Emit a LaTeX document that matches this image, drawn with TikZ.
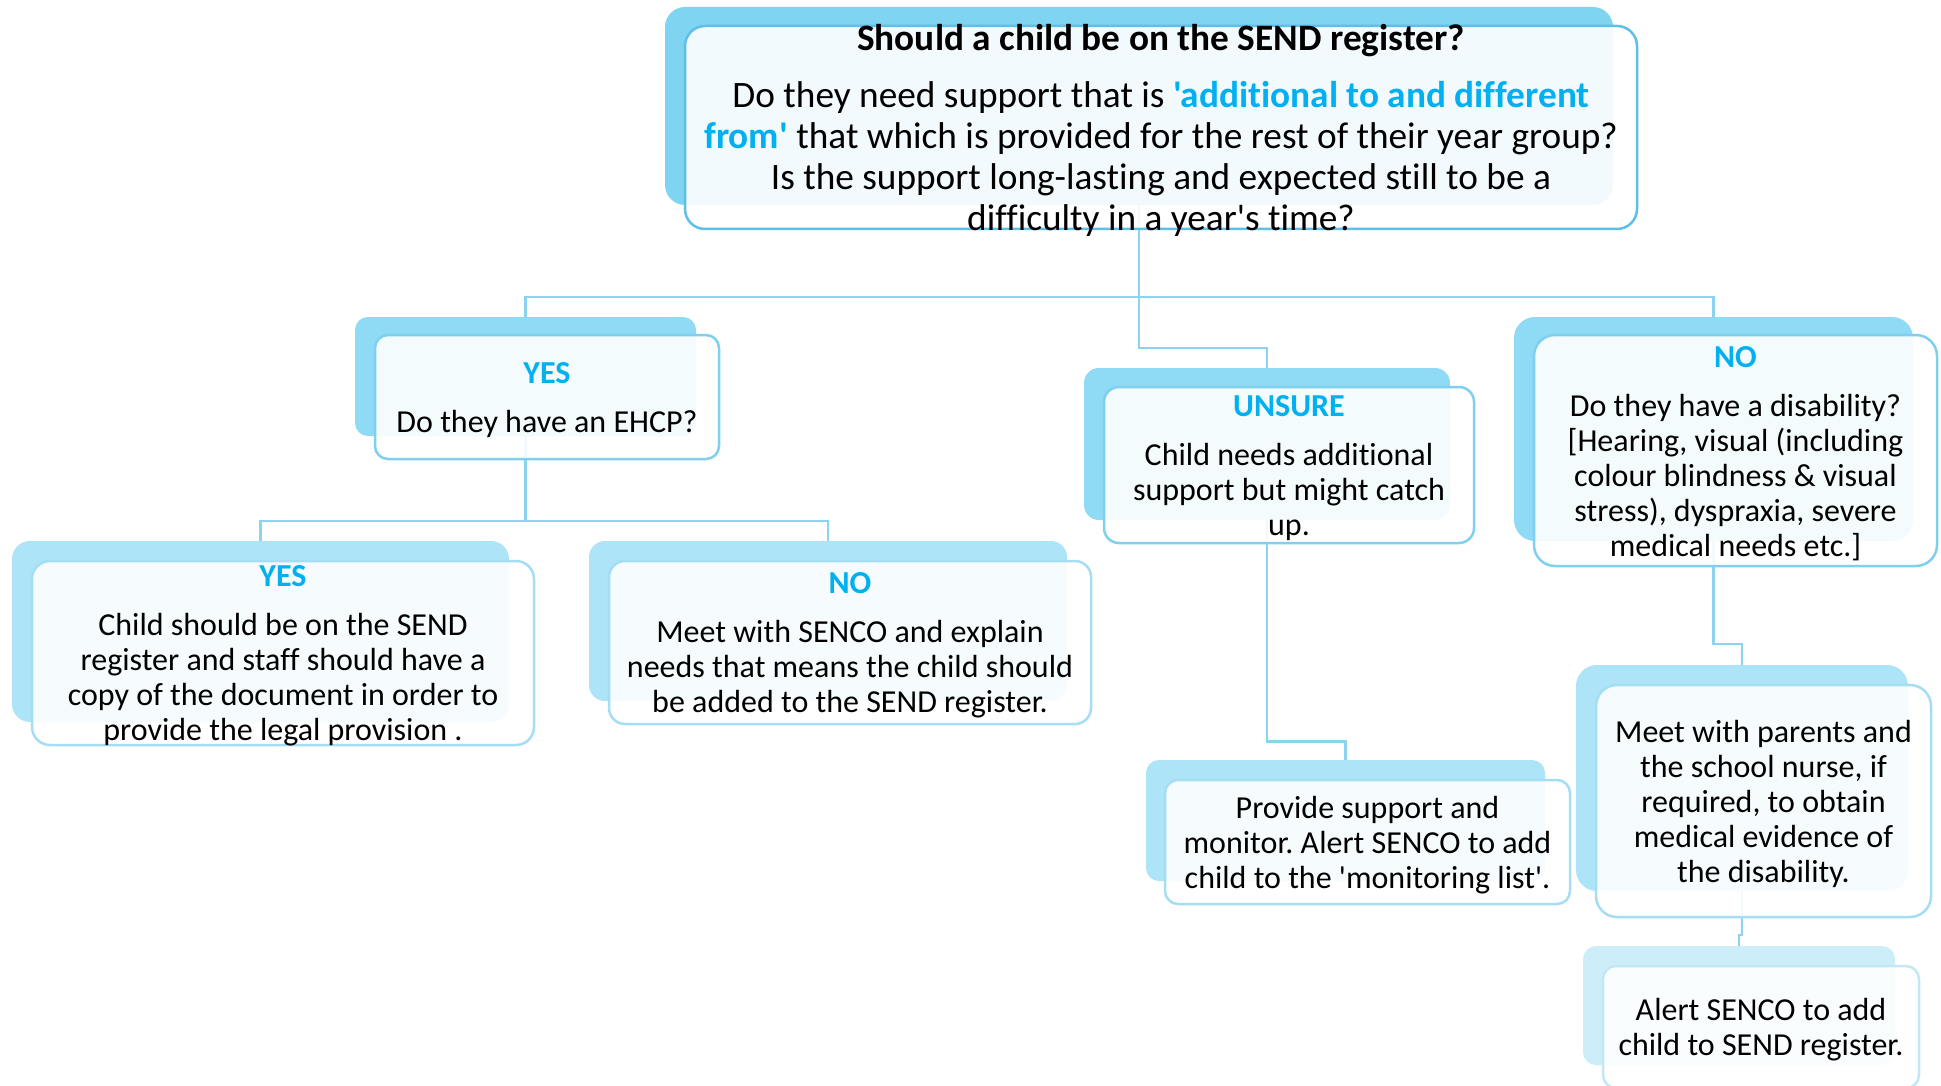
\documentclass[tikz,border=0pt]{standalone}
\usepackage{fontspec}
\newfontfamily\cf{Carlito}[Ligatures=CommonOff]
\frenchspacing
\definecolor{hl}{HTML}{00B0F0}
\definecolor{bk1}{HTML}{7FD4F1}
\definecolor{bk2}{HTML}{8FDAF4}
\definecolor{bk3}{HTML}{ADE4F7}
\definecolor{bk4}{HTML}{CDEDF9}
\definecolor{fr1}{HTML}{5FBFE6}
\definecolor{fr2}{HTML}{7FCFF0}
\definecolor{fr3}{HTML}{A5DDF4}
\definecolor{fr4}{HTML}{C3E7F6}
\definecolor{linkc}{HTML}{8CD3F0}
\begin{document}
\begin{tikzpicture}[x=1pt,y=-1pt,
  backbox/.style={inner sep=0pt, outer sep=0pt, draw=none},
  frontbox/.style={inner sep=0pt, outer sep=0pt, line width=2.5pt, fill=white, fill opacity=0.9},
  txt/.style={inner sep=0pt, align=center, yshift=-3pt, font=\cf\fontsize{32}{35}\selectfont\frenchspacing},
  bigtxt/.style={inner sep=0pt, align=center, yshift=-2.5pt, font=\cf\fontsize{37.3}{41}\selectfont\frenchspacing},
  link/.style={draw=linkc, line width=2.5pt}]
\fill[white] (0,0) rectangle (1941,1086);
\useasboundingbox (0,0) rectangle (1941,1086);

% back shapes (named first so connectors can use them)
\path
  node[backbox, minimum width=948pt, minimum height=198pt] (Tb) at (1139,106) {}
  node[backbox, minimum width=341pt, minimum height=119pt] (Yb) at (525.5,376.5) {}
  node[backbox, minimum width=497pt, minimum height=181pt] (Y2b) at (260.5,631.5) {}
  node[backbox, minimum width=478pt, minimum height=160pt] (N1b) at (828,621) {}
  node[backbox, minimum width=366pt, minimum height=152pt] (Ub) at (1267,444) {}
  node[backbox, minimum width=399pt, minimum height=121pt] (Pb) at (1345.5,820.5) {}
  node[backbox, minimum width=399pt, minimum height=224pt] (N2b) at (1713.5,429) {}
  node[backbox, minimum width=332pt, minimum height=226pt] (Mb) at (1742,778) {}
  node[backbox, minimum width=312pt, minimum height=119pt] (Ab) at (1739,1005.5) {};

\coordinate (b1) at (0,297);
\coordinate (b2) at (0,348);
\coordinate (b3) at (0,521);
\coordinate (b4) at (0,741.5);
\coordinate (b5) at (0,644);
\coordinate (b6) at (0,935);

% connectors
\draw[link] (Yb.north) |- (N2b.north |- b1) -- (N2b.north);
\draw[link] (Tb.south) |- (Ub.north |- b2) -- (Ub.north);
\draw[link] (Yb.south) -- (Yb.south |- b3);
\draw[link] (Y2b.north) |- (N1b.north |- b3) -- (N1b.north);
\draw[link] (Ub.south) |- (Pb.north |- b4) -- (Pb.north);
\draw[link] (N2b.south) |- (Mb.north |- b5) -- (Mb.north);
\draw[link] (Mb.south) |- (Ab.north |- b6) -- (Ab.north);

% filled back shapes
\fill[bk1, rounded corners=20pt] (Tb.south west) rectangle (Tb.north east);
\fill[bk2, rounded corners=13pt] (Yb.south west) rectangle (Yb.north east);
\fill[bk3, rounded corners=18pt] (Y2b.south west) rectangle (Y2b.north east);
\fill[bk3, rounded corners=16pt] (N1b.south west) rectangle (N1b.north east);
\fill[bk2, rounded corners=15pt] (Ub.south west) rectangle (Ub.north east);
\fill[bk3, rounded corners=13pt] (Pb.south west) rectangle (Pb.north east);
\fill[bk2, rounded corners=21pt] (N2b.south west) rectangle (N2b.north east);
\fill[bk3, rounded corners=21pt] (Mb.south west) rectangle (Mb.north east);
\fill[bk4, rounded corners=13pt] (Ab.south west) rectangle (Ab.north east);

% front boxes
\node[frontbox, draw=fr1, rounded corners=20pt, minimum width=952pt, minimum height=203pt] (T) at (1161,127.5) {};
\node[frontbox, draw=fr2, rounded corners=13pt, minimum width=344pt, minimum height=124pt] (Y) at (547,397) {};
\node[frontbox, draw=fr3, rounded corners=18pt, minimum width=502pt, minimum height=184pt] (Y2) at (283,653) {};
\node[frontbox, draw=fr3, rounded corners=16pt, minimum width=482pt, minimum height=163pt] (N1) at (850,642.5) {};
\node[frontbox, draw=fr2, rounded corners=15pt, minimum width=370pt, minimum height=156pt] (U) at (1289,465) {};
\node[frontbox, draw=fr3, rounded corners=13pt, minimum width=405pt, minimum height=124pt] (P) at (1367.5,842) {};
\node[frontbox, draw=fr2, rounded corners=21pt, minimum width=403pt, minimum height=231pt] (N2) at (1735.5,450.5) {};
\node[frontbox, draw=fr3, rounded corners=21pt, minimum width=335pt, minimum height=232pt] (M) at (1763.5,801) {};
\node[frontbox, draw=fr4, rounded corners=13pt, minimum width=316pt, minimum height=122pt] (A) at (1761,1027) {};

% texts
\node[bigtxt] (Tt) at (T.center) {\textbf{Should a child be on the SEND register?}\\[16pt]
Do they need support that is {\color{hl}\bfseries 'additional to and different}\\
{\color{hl}\bfseries from'} that which is provided for the rest of their year group?\\
Is the support long-lasting and expected still to be a\\
difficulty in a year's time?};
\node[txt] (Yt) at (Y.center) {{\color{hl}\bfseries YES}\\[14pt]Do they have an EHCP?};
\node[txt] (Y2t) at (Y2.center) {{\color{hl}\bfseries YES}\\[14pt]Child should be on the SEND\\
register and staff should have a\\copy of the document in order to\\provide the legal provision .};
\node[txt] (N1t) at (N1.center) {{\color{hl}\bfseries NO}\\[14pt]Meet with SENCO and explain\\
needs that means the child should\\be added to the SEND register.};
\node[txt] (Ut) at (U.center) {{\color{hl}\bfseries UNSURE}\\[14pt]Child needs additional\\
support but might catch\\up.};
\node[txt] (Pt) at (P.center) {Provide support and\\monitor. Alert SENCO to add\\child to the 'monitoring list'.};
\node[txt] (N2t) at (N2.center) {{\color{hl}\bfseries NO}\\[14pt]Do they have a disability?\\
{[}Hearing, visual (including\\colour blindness \& visual\\stress), dyspraxia, severe\\medical needs etc.{]}};
\node[txt] (Mt) at (M.center) {Meet with parents and\\the school nurse, if\\required, to obtain\\medical evidence of\\the disability.};
\node[txt] (At) at (A.center) {Alert SENCO to add\\child to SEND register.};
\end{tikzpicture}
\end{document}
